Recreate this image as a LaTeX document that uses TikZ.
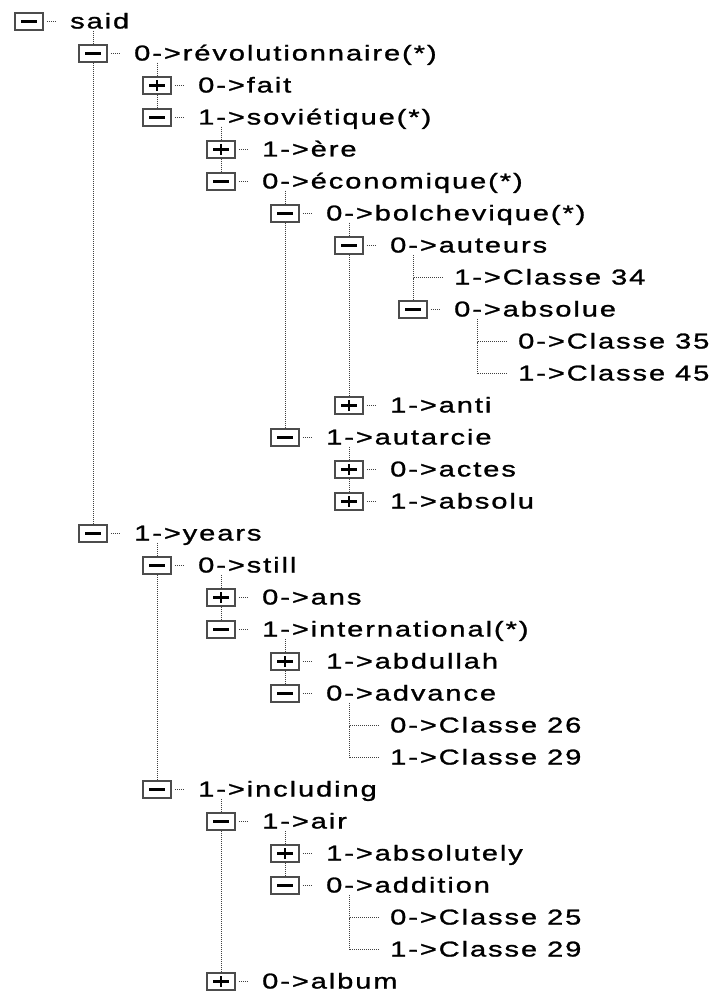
\documentclass[tikz,border=0pt]{standalone}
\usepackage{fontspec}
\newfontfamily\treefont{Liberation Sans}[FakeStretch=1.35,LetterSpace=9,FakeBold=1.2]
\tikzset{
  tbox/.style={draw=black!70, line width=1.5pt, fill=white, minimum width=28pt, minimum height=17pt, inner sep=0pt},
  lbl/.style={anchor=base west, inner sep=0pt, font={\treefont\fontsize{21.5}{24}\selectfont}},
  tline/.style={black!75, line width=1pt, dash pattern=on 1pt off 1pt},
  bar/.style={black, line width=2.8pt},
}
\newcommand\tvbox[5]{%
  \node[tbox] (b#1) at ({29+64*#2},{21.5+32*#3}) {};
  \node[lbl] (t#1) at ({70+64*#2},{28.5+32*#3}) {#5};
  \draw[tline, shorten <=3pt, shorten >=15pt] (b#1) -- (b#1 -| t#1.west);
  \draw[bar] ([xshift=-8pt]b#1.center) -- ([xshift=8pt]b#1.center);
  \if p#4\draw[bar] ([yshift=-5.5pt]b#1.center) -- ([yshift=5.5pt]b#1.center);\fi
}
\newcommand\tvleaf[4]{%
  \coordinate (k#1) at ({29+64*#2},{21.5+32*#3});
  \node[lbl] (t#1) at ({70+64*#2},{28.5+32*#3}) {#4};
  \draw[tline, shorten <=1pt, shorten >=11pt] (k#1) -- (k#1 -| t#1.west);
}
\begin{document}
\begin{tikzpicture}[x=1pt,y=-1pt]
\useasboundingbox[fill=white] (0,0) rectangle (726,992);
\tvbox{0}{0}{0}{m}{said}
\tvbox{1}{1}{1}{m}{0->révolutionnaire(*)}
\tvbox{2}{2}{2}{p}{0->fait}
\tvbox{3}{2}{3}{m}{1->soviétique(*)}
\tvbox{4}{3}{4}{p}{1->ère}
\tvbox{5}{3}{5}{m}{0->économique(*)}
\tvbox{6}{4}{6}{m}{0->bolchevique(*)}
\tvbox{7}{5}{7}{m}{0->auteurs}
\tvleaf{8}{6}{8}{1->Classe 34}
\tvbox{9}{6}{9}{m}{0->absolue}
\tvleaf{10}{7}{10}{0->Classe 35}
\tvleaf{11}{7}{11}{1->Classe 45}
\tvbox{12}{5}{12}{p}{1->anti}
\tvbox{13}{4}{13}{m}{1->autarcie}
\tvbox{14}{5}{14}{p}{0->actes}
\tvbox{15}{5}{15}{p}{1->absolu}
\tvbox{16}{1}{16}{m}{1->years}
\tvbox{17}{2}{17}{m}{0->still}
\tvbox{18}{3}{18}{p}{0->ans}
\tvbox{19}{3}{19}{m}{1->international(*)}
\tvbox{20}{4}{20}{p}{1->abdullah}
\tvbox{21}{4}{21}{m}{0->advance}
\tvleaf{22}{5}{22}{0->Classe 26}
\tvleaf{23}{5}{23}{1->Classe 29}
\tvbox{24}{2}{24}{m}{1->including}
\tvbox{25}{3}{25}{m}{1->air}
\tvbox{26}{4}{26}{p}{1->absolutely}
\tvbox{27}{4}{27}{m}{0->addition}
\tvleaf{28}{5}{28}{0->Classe 25}
\tvleaf{29}{5}{29}{1->Classe 29}
\tvbox{30}{3}{30}{p}{0->album}
% tree lines
\draw[tline] (b0.south -| b1) -- (b1.north);
\draw[tline] (b1.south) -- (b16.north);
\draw[tline] (b1.south -| b2) -- (b2.north);
\draw[tline] (b2.south) -- (b3.north);
\draw[tline] (b3.south -| b4) -- (b4.north);
\draw[tline] (b4.south) -- (b5.north);
\draw[tline] (b5.south -| b6) -- (b6.north);
\draw[tline] (b6.south) -- (b13.north);
\draw[tline] (b6.south -| b7) -- (b7.north);
\draw[tline] (b7.south) -- (b12.north);
\draw[tline] (b7.south -| k8) -- (k8) -- (b9.north);
\draw[tline] (b9.south -| k10) -- (k10) -- (k11);
\draw[tline] (b13.south -| b14) -- (b14.north);
\draw[tline] (b14.south) -- (b15.north);
\draw[tline] (b16.south -| b17) -- (b17.north);
\draw[tline] (b17.south) -- (b24.north);
\draw[tline] (b17.south -| b18) -- (b18.north);
\draw[tline] (b18.south) -- (b19.north);
\draw[tline] (b19.south -| b20) -- (b20.north);
\draw[tline] (b20.south) -- (b21.north);
\draw[tline] (b21.south -| k22) -- (k22) -- (k23);
\draw[tline] (b24.south -| b25) -- (b25.north);
\draw[tline] (b25.south) -- (b30.north);
\draw[tline] (b25.south -| b26) -- (b26.north);
\draw[tline] (b26.south) -- (b27.north);
\draw[tline] (b27.south -| k28) -- (k28) -- (k29);
\end{tikzpicture}
\end{document}
